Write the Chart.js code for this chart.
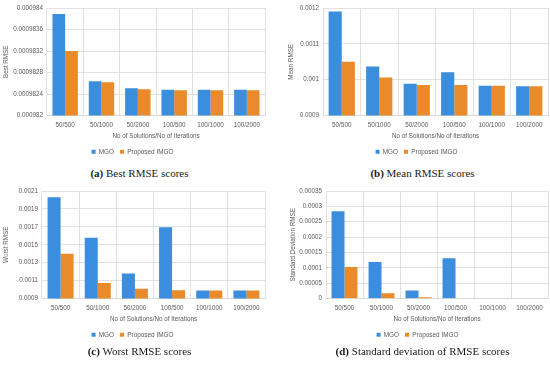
<!DOCTYPE html>
<html>
<head>
<meta charset="utf-8">
<script src="https://cdn.jsdelivr.net/npm/chart.js@4"></script>
<style>
  body { margin: 0; background: #fff; width: 550px; height: 366px; position: relative; overflow: hidden; }
  .panel { position: absolute; }
  .cap { position: absolute; width: 275px; text-align: center; font-family: 'Liberation Serif', serif; font-size: 11px; color: #1a1a1a; }
</style>
</head>
<body>
<div class="panel" style="left:0;top:0"><canvas id="chartA" width="275" height="165"></canvas></div>
<div class="panel" style="left:275px;top:0"><canvas id="chartB" width="275" height="165"></canvas></div>
<div class="panel" style="left:0;top:183px"><canvas id="chartC" width="275" height="165"></canvas></div>
<div class="panel" style="left:275px;top:183px"><canvas id="chartD" width="275" height="165"></canvas></div>
<div class="cap" style="left:2px;top:167px"><b>(a)</b> Best RMSE scores</div>
<div class="cap" style="left:285px;top:167px"><b>(b)</b> Mean RMSE scores</div>
<div class="cap" style="left:2px;top:345px"><b>(c)</b> Worst RMSE scores</div>
<div class="cap" style="left:285px;top:345px"><b>(d)</b> Standard deviation of RMSE scores</div>
<script>
const categories = ['50/500', '50/1000', '50/2000', '100/500', '100/1000', '100/2000'];

const bestMGO = [0.00098389, 0.00098264, 0.00098251, 0.00098248, 0.00098248, 0.00098248];
const bestIMGO = [0.0009832, 0.00098262, 0.00098249, 0.00098247, 0.00098247, 0.00098247];
const bestTicks = [0.000982, 0.0009824, 0.0009828, 0.0009832, 0.0009836, 0.000984];

const meanMGO = [0.00119, 0.001037, 0.000989, 0.001021, 0.000983, 0.000982];
const meanIMGO = [0.00105, 0.001006, 0.000985, 0.000985, 0.000983, 0.000982];
const meanTicks = [0.0009, 0.001, 0.0011, 0.0012];

const worstMGO = [0.00203, 0.001579, 0.001181, 0.001695, 0.00099, 0.00099];
const worstIMGO = [0.0014, 0.001073, 0.001009, 0.000994, 0.00099, 0.00099];
const worstTicks = [0.0009, 0.0011, 0.0013, 0.0015, 0.0017, 0.0019, 0.0021];

const stdMGO = [0.000284, 0.000119, 0.0000267, 0.000131, 0, 0];
const stdIMGO = [0.000103, 0.0000178, 0.000004, 0, 0, 0];
const stdTicks = [0, 0.00005, 0.0001, 0.00015, 0.0002, 0.00025, 0.0003, 0.00035];

const seriesNames = ['MGO', 'Proposed IMGO'];
const colors = ['#3b8ddd', '#e98a2b'];
const textGray = '#595959';
const gridGray = '#d9d9d9';

function makeChart(id, mgo, imgo, ticks, yTitle, yWidth, padLeft, padRight) {
    new Chart(document.getElementById(id), {
        type: 'bar',
        data: {
            labels: categories,
            datasets: [
                { label: seriesNames[0], data: mgo, backgroundColor: colors[0], borderWidth: 0 },
                { label: seriesNames[1], data: imgo, backgroundColor: colors[1], borderWidth: 0 },
            ],
        },
        options: {
            responsive: false,
            animation: false,
            categoryPercentage: 0.7,
            barPercentage: 1.0,
            layout: { padding: { top: 8, left: padLeft, right: padRight, bottom: 0 } },
            scales: {
                x: {
                    afterFit: s => { s.height = 27; },
                    grid: { color: gridGray, lineWidth: 0.8, drawTicks: false },
                    border: { color: gridGray },
                    ticks: { color: textGray, font: { family: 'Liberation Sans', size: 6.3 }, padding: 6, maxRotation: 0 },
                    title: {
                        display: true,
                        text: 'No of Solutions/No of Iterations',
                        color: textGray,
                        font: { family: 'Liberation Sans', size: 6.3 },
                        padding: { top: 2, bottom: 3 },
                    },
                },
                y: {
                    min: ticks[0],
                    max: ticks[ticks.length - 1],
                    afterFit: s => { s.width = yWidth; },
                    afterBuildTicks: s => { s.ticks = ticks.map(v => ({ value: v })); },
                    grid: { color: gridGray, lineWidth: 0.8, drawTicks: false },
                    border: { display: false },
                    ticks: {
                        color: textGray,
                        font: { family: 'Liberation Sans', size: 6.3 },
                        padding: 4,
                        callback: v => String(v),
                    },
                    title: {
                        display: true,
                        text: yTitle,
                        color: textGray,
                        font: { family: 'Liberation Sans', size: 6.3 },
                        padding: { top: 2, bottom: 2 },
                    },
                },
            },
            plugins: {
                legend: {
                    position: 'bottom',
                    labels: {
                        color: textGray,
                        font: { family: 'Liberation Sans', size: 6.4 },
                        boxWidth: 4,
                        boxHeight: 4,
                        padding: 6,
                    },
                },
                tooltip: { enabled: false },
            },
        },
    });
}

makeChart('chartA', bestMGO, bestIMGO, bestTicks, 'Best RMSE', 47, 0, 10);
makeChart('chartB', meanMGO, meanIMGO, meanTicks, 'Mean RMSE', 38, 10, 2);
makeChart('chartC', worstMGO, worstIMGO, worstTicks, 'Worst RMSE', 42, 0, 10);
makeChart('chartD', stdMGO, stdIMGO, stdTicks, 'Standard Deviation RMSE', 39, 12, 2);
</script>
</body>
</html>
